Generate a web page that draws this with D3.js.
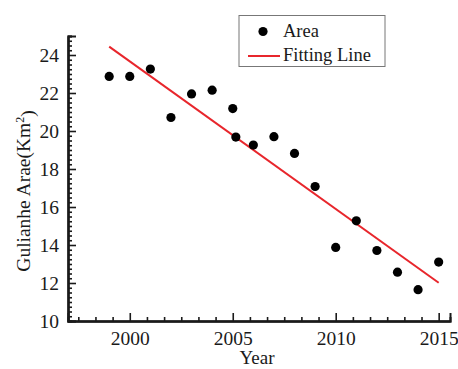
<!DOCTYPE html>
<html><head><meta charset="utf-8">
<script src="https://cdn.jsdelivr.net/npm/d3@7"></script>
</head><body style="margin:0">
<script>
const years = [1999,2000,2001,2002,2003,2004,2005,2005.15,2006,2007,2008,2009,2010,2011,2012,2013,2014,2015];
const areas = [22.87,22.87,23.26,20.71,21.95,22.15,21.18,19.68,19.26,19.70,18.82,17.08,13.87,15.27,13.71,12.57,11.65,13.10];
const fitYears = [1999,2015];
const fitValues = [24.44,12.01];
const xTicks = [2000,2005,2010,2015];
const yTicks = [10,12,14,16,18,20,22,24];
const legendLabels = ["Area","Fitting Line"];

const SERIF='Tinos, "Times New Roman", "Liberation Serif", FreeSerif, serif';
const INK="#1a1a1a";
const W=458,H=369;
const m={l:68,r:8,t:36,b:48};
const svg=d3.select("body").append("svg").attr("width",W).attr("height",H);
const x=d3.scaleLinear().domain([1997,2015.55]).range([m.l,W-m.r]);
const y=d3.scaleLinear().domain([10,25]).range([H-m.b,m.t]);

const xMinor=[];for(let v=1997.5;v<2015.6;v+=5/6){const r=Math.round(v*6)/6; if(Math.abs(r-Math.round(r/5)*5)>0.01) xMinor.push(r);}
const yMinor=[];for(let v=10.25;v<25.01;v+=0.25){const r=Math.round(v*4)/4; if(Math.abs(r/2-Math.round(r/2))>0.01) yMinor.push(r);}

const gx=svg.append("g").attr("transform",`translate(0,${H-m.b})`);
gx.call(d3.axisTop(x).tickValues(xMinor).tickSize(4).tickFormat(""));
gx.append("g").call(d3.axisTop(x).tickValues(xTicks).tickSize(8).tickFormat(""));
gx.append("g").call(d3.axisBottom(x).tickValues(xTicks).tickSize(0).tickPadding(10).tickFormat(d3.format("d")));
const gy=svg.append("g").attr("transform",`translate(${m.l},0)`);
gy.call(d3.axisRight(y).tickValues(yMinor).tickSize(4).tickFormat(""));
gy.append("g").call(d3.axisRight(y).tickValues(yTicks).tickSize(8).tickFormat(""));
gy.append("g").call(d3.axisLeft(y).tickValues(yTicks).tickSize(0).tickPadding(9).tickFormat(d3.format("d")));
svg.selectAll("g").attr("font-family",SERIF).attr("font-size",null);
svg.selectAll(".domain").attr("stroke",INK).attr("stroke-width",2);
svg.selectAll(".tick line").attr("stroke",INK).attr("stroke-width",1.6);
svg.selectAll(".tick text").attr("font-family",SERIF).style("font-family",SERIF).style("font-size","19.5px").attr("fill",INK);

svg.append("path").datum(fitYears.map((d,i)=>[d,fitValues[i]]))
 .attr("d",d3.line().x(d=>x(d[0])).y(d=>y(d[1])))
 .attr("fill","none").attr("stroke","#e8262c").attr("stroke-width",2);
svg.selectAll("circle.pt").data(years).join("circle").attr("class","pt")
 .attr("cx",d=>x(d)).attr("cy",(d,i)=>y(areas[i])).attr("r",4.6).attr("fill","#000");

svg.append("text").attr("x",257).attr("y",364).attr("text-anchor","middle")
 .attr("font-family",SERIF).style("font-family",SERIF).style("font-size","19px").attr("fill",INK).text("Year");
const yl=svg.append("text").attr("transform",`translate(30,191) rotate(-90)`).attr("text-anchor","middle")
 .attr("font-family",SERIF).style("font-family",SERIF).style("font-size","19.5px").attr("fill",INK);
yl.append("tspan").text("Gulianhe Arae(Km");
yl.append("tspan").attr("dy","-0.5em").style("font-size","12px").text("2");
yl.append("tspan").attr("dy","0.5em").text(")");

const lg=svg.append("g");
lg.append("rect").attr("x",239).attr("y",15.5).attr("width",146).attr("height",51).attr("fill","#fff").attr("stroke","#777").attr("stroke-width",1);
lg.append("circle").attr("cx",263).attr("cy",31.5).attr("r",4.6).attr("fill","#000");
lg.append("line").attr("x1",248).attr("x2",280).attr("y1",56).attr("y2",56).attr("stroke","#e8262c").attr("stroke-width",2);
lg.selectAll("text.lt").data(legendLabels).join("text").attr("class","lt")
 .attr("x",283).attr("y",(d,i)=>36.5+i*24).attr("font-family",SERIF).style("font-family",SERIF).style("font-size","18.5px").attr("fill",INK).text(d=>d);
</script>
</body></html>
